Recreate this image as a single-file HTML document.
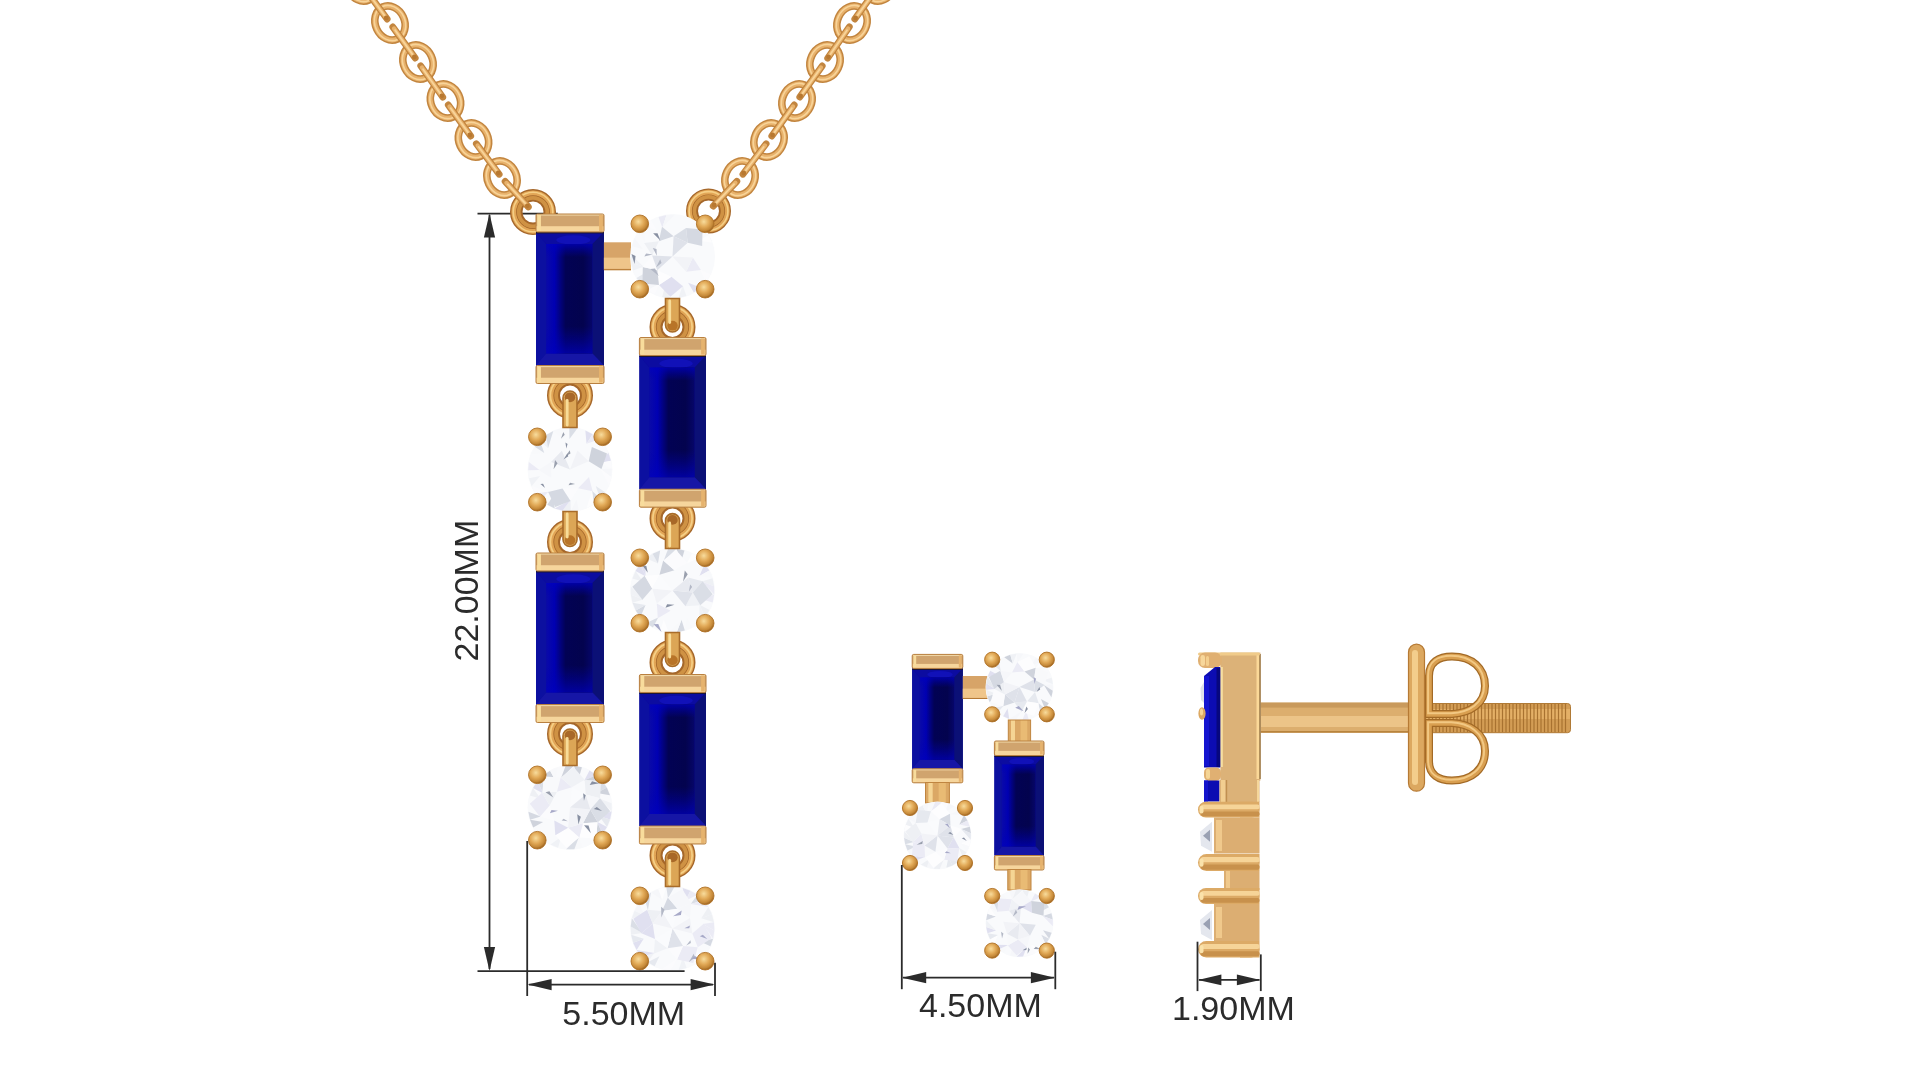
<!DOCTYPE html>
<html><head><meta charset="utf-8"><title>Sapphire Diamond Bar Pendant Set</title>
<style>html,body{margin:0;padding:0;background:#fff;width:1920px;height:1080px;overflow:hidden}svg{display:block;filter:blur(0.45px)}</style>
</head><body>
<svg width="1920" height="1080" viewBox="0 0 1920 1080">
<defs>
<linearGradient id="tbl" x1="0" x2="1" y1="0" y2="0">
<stop offset="0" stop-color="#0a0aa8"/><stop offset="0.18" stop-color="#0000b2"/><stop offset="0.3" stop-color="#020280"/><stop offset="0.42" stop-color="#020254"/><stop offset="0.8" stop-color="#03034e"/><stop offset="1" stop-color="#06066a"/></linearGradient>
<linearGradient id="tblv" x1="0" x2="0" y1="0" y2="1"><stop offset="0" stop-color="#0000c0" stop-opacity="0.75"/><stop offset="0.12" stop-color="#0000b0" stop-opacity="0"/><stop offset="0.75" stop-color="#0000b0" stop-opacity="0"/><stop offset="1" stop-color="#0000c0" stop-opacity="0.7"/></linearGradient>
<linearGradient id="lstep" x1="0" x2="1" y1="0" y2="0"><stop offset="0" stop-color="#0c10a2"/><stop offset="0.45" stop-color="#0a0eaa"/><stop offset="0.55" stop-color="#0202b2"/><stop offset="1" stop-color="#0000ae"/></linearGradient>
<radialGradient id="prong" cx="0.42" cy="0.38" r="0.6">
<stop offset="0" stop-color="#f8dc9c"/><stop offset="0.5" stop-color="#e2aa58"/><stop offset="0.85" stop-color="#c48838"/><stop offset="1" stop-color="#a36a26"/></radialGradient>
</defs>
<rect width="1920" height="1080" fill="#fff"/>
<g transform="translate(333,-55) rotate(65)"><ellipse rx="17.6" ry="14.6" fill="none" stroke="#c2853f" stroke-width="7.6"/><ellipse rx="17.6" ry="14.6" fill="none" stroke="#e8b26c" stroke-width="4.6"/><ellipse rx="18.1" ry="15.1" fill="none" stroke="#f8d499" stroke-width="1.6"/></g>
<g transform="translate(361.5,-16) rotate(65)"><ellipse rx="17.6" ry="14.6" fill="none" stroke="#c2853f" stroke-width="7.6"/><ellipse rx="17.6" ry="14.6" fill="none" stroke="#e8b26c" stroke-width="4.6"/><ellipse rx="18.1" ry="15.1" fill="none" stroke="#f8d499" stroke-width="1.6"/></g>
<g transform="translate(390,23) rotate(65)"><ellipse rx="17.6" ry="14.6" fill="none" stroke="#c2853f" stroke-width="7.6"/><ellipse rx="17.6" ry="14.6" fill="none" stroke="#e8b26c" stroke-width="4.6"/><ellipse rx="18.1" ry="15.1" fill="none" stroke="#f8d499" stroke-width="1.6"/></g>
<g transform="translate(418,62) rotate(65)"><ellipse rx="17.6" ry="14.6" fill="none" stroke="#c2853f" stroke-width="7.6"/><ellipse rx="17.6" ry="14.6" fill="none" stroke="#e8b26c" stroke-width="4.6"/><ellipse rx="18.1" ry="15.1" fill="none" stroke="#f8d499" stroke-width="1.6"/></g>
<g transform="translate(445.5,101) rotate(65)"><ellipse rx="17.6" ry="14.6" fill="none" stroke="#c2853f" stroke-width="7.6"/><ellipse rx="17.6" ry="14.6" fill="none" stroke="#e8b26c" stroke-width="4.6"/><ellipse rx="18.1" ry="15.1" fill="none" stroke="#f8d499" stroke-width="1.6"/></g>
<g transform="translate(473.5,140) rotate(65)"><ellipse rx="17.6" ry="14.6" fill="none" stroke="#c2853f" stroke-width="7.6"/><ellipse rx="17.6" ry="14.6" fill="none" stroke="#e8b26c" stroke-width="4.6"/><ellipse rx="18.1" ry="15.1" fill="none" stroke="#f8d499" stroke-width="1.6"/></g>
<g transform="translate(502,178) rotate(65)"><ellipse rx="17.6" ry="14.6" fill="none" stroke="#c2853f" stroke-width="7.6"/><ellipse rx="17.6" ry="14.6" fill="none" stroke="#e8b26c" stroke-width="4.6"/><ellipse rx="18.1" ry="15.1" fill="none" stroke="#f8d499" stroke-width="1.6"/></g>
<line x1="335.85" y1="-51.1" x2="358.65" y2="-19.9" stroke="#c2853f" stroke-width="6.8" stroke-linecap="round"/><line x1="337.03" y1="-49.49" x2="357.47" y2="-21.51" stroke="#e8b26c" stroke-width="4.2" stroke-linecap="round"/><line x1="338.21" y1="-47.87" x2="356.29" y2="-23.13" stroke="#f8d499" stroke-width="1.8" stroke-linecap="round"/><circle cx="357.76" cy="-21.11" r="2.4" fill="#b87830"/>
<line x1="364.35" y1="-12.1" x2="387.15" y2="19.1" stroke="#c2853f" stroke-width="6.8" stroke-linecap="round"/><line x1="365.53" y1="-10.49" x2="385.97" y2="17.49" stroke="#e8b26c" stroke-width="4.2" stroke-linecap="round"/><line x1="366.71" y1="-8.87" x2="384.79" y2="15.87" stroke="#f8d499" stroke-width="1.8" stroke-linecap="round"/><circle cx="386.26" cy="17.89" r="2.4" fill="#b87830"/>
<line x1="392.8" y1="26.9" x2="415.2" y2="58.1" stroke="#c2853f" stroke-width="6.8" stroke-linecap="round"/><line x1="393.97" y1="28.52" x2="414.03" y2="56.48" stroke="#e8b26c" stroke-width="4.2" stroke-linecap="round"/><line x1="395.13" y1="30.15" x2="412.87" y2="54.85" stroke="#f8d499" stroke-width="1.8" stroke-linecap="round"/><circle cx="414.33" cy="56.88" r="2.4" fill="#b87830"/>
<line x1="420.75" y1="65.9" x2="442.75" y2="97.1" stroke="#c2853f" stroke-width="6.8" stroke-linecap="round"/><line x1="421.9" y1="67.53" x2="441.6" y2="95.47" stroke="#e8b26c" stroke-width="4.2" stroke-linecap="round"/><line x1="423.06" y1="69.17" x2="440.44" y2="93.83" stroke="#f8d499" stroke-width="1.8" stroke-linecap="round"/><circle cx="441.89" cy="95.87" r="2.4" fill="#b87830"/>
<line x1="448.3" y1="104.9" x2="470.7" y2="136.1" stroke="#c2853f" stroke-width="6.8" stroke-linecap="round"/><line x1="449.47" y1="106.52" x2="469.53" y2="134.48" stroke="#e8b26c" stroke-width="4.2" stroke-linecap="round"/><line x1="450.63" y1="108.15" x2="468.37" y2="132.85" stroke="#f8d499" stroke-width="1.8" stroke-linecap="round"/><circle cx="469.83" cy="134.88" r="2.4" fill="#b87830"/>
<line x1="476.35" y1="143.8" x2="499.15" y2="174.2" stroke="#c2853f" stroke-width="6.8" stroke-linecap="round"/><line x1="477.55" y1="145.4" x2="497.95" y2="172.6" stroke="#e8b26c" stroke-width="4.2" stroke-linecap="round"/><line x1="478.75" y1="147" x2="496.75" y2="171" stroke="#f8d499" stroke-width="1.8" stroke-linecap="round"/><circle cx="498.25" cy="173" r="2.4" fill="#b87830"/>
<g transform="translate(907,-55) rotate(115)"><ellipse rx="17.6" ry="14.6" fill="none" stroke="#c2853f" stroke-width="7.6"/><ellipse rx="17.6" ry="14.6" fill="none" stroke="#e8b26c" stroke-width="4.6"/><ellipse rx="18.1" ry="15.1" fill="none" stroke="#f8d499" stroke-width="1.6"/></g>
<g transform="translate(880,-16) rotate(115)"><ellipse rx="17.6" ry="14.6" fill="none" stroke="#c2853f" stroke-width="7.6"/><ellipse rx="17.6" ry="14.6" fill="none" stroke="#e8b26c" stroke-width="4.6"/><ellipse rx="18.1" ry="15.1" fill="none" stroke="#f8d499" stroke-width="1.6"/></g>
<g transform="translate(852,23) rotate(115)"><ellipse rx="17.6" ry="14.6" fill="none" stroke="#c2853f" stroke-width="7.6"/><ellipse rx="17.6" ry="14.6" fill="none" stroke="#e8b26c" stroke-width="4.6"/><ellipse rx="18.1" ry="15.1" fill="none" stroke="#f8d499" stroke-width="1.6"/></g>
<g transform="translate(825,62) rotate(115)"><ellipse rx="17.6" ry="14.6" fill="none" stroke="#c2853f" stroke-width="7.6"/><ellipse rx="17.6" ry="14.6" fill="none" stroke="#e8b26c" stroke-width="4.6"/><ellipse rx="18.1" ry="15.1" fill="none" stroke="#f8d499" stroke-width="1.6"/></g>
<g transform="translate(797,101) rotate(115)"><ellipse rx="17.6" ry="14.6" fill="none" stroke="#c2853f" stroke-width="7.6"/><ellipse rx="17.6" ry="14.6" fill="none" stroke="#e8b26c" stroke-width="4.6"/><ellipse rx="18.1" ry="15.1" fill="none" stroke="#f8d499" stroke-width="1.6"/></g>
<g transform="translate(769,140) rotate(115)"><ellipse rx="17.6" ry="14.6" fill="none" stroke="#c2853f" stroke-width="7.6"/><ellipse rx="17.6" ry="14.6" fill="none" stroke="#e8b26c" stroke-width="4.6"/><ellipse rx="18.1" ry="15.1" fill="none" stroke="#f8d499" stroke-width="1.6"/></g>
<g transform="translate(740,178) rotate(115)"><ellipse rx="17.6" ry="14.6" fill="none" stroke="#c2853f" stroke-width="7.6"/><ellipse rx="17.6" ry="14.6" fill="none" stroke="#e8b26c" stroke-width="4.6"/><ellipse rx="18.1" ry="15.1" fill="none" stroke="#f8d499" stroke-width="1.6"/></g>
<line x1="904.3" y1="-51.1" x2="882.7" y2="-19.9" stroke="#c2853f" stroke-width="6.8" stroke-linecap="round"/><line x1="903.16" y1="-49.46" x2="883.84" y2="-21.54" stroke="#e8b26c" stroke-width="4.2" stroke-linecap="round"/><line x1="902.02" y1="-47.81" x2="884.98" y2="-23.19" stroke="#f8d499" stroke-width="1.8" stroke-linecap="round"/><circle cx="883.55" cy="-21.13" r="2.4" fill="#b87830"/>
<line x1="877.2" y1="-12.1" x2="854.8" y2="19.1" stroke="#c2853f" stroke-width="6.8" stroke-linecap="round"/><line x1="876.03" y1="-10.48" x2="855.97" y2="17.48" stroke="#e8b26c" stroke-width="4.2" stroke-linecap="round"/><line x1="874.87" y1="-8.85" x2="857.13" y2="15.85" stroke="#f8d499" stroke-width="1.8" stroke-linecap="round"/><circle cx="855.67" cy="17.88" r="2.4" fill="#b87830"/>
<line x1="849.3" y1="26.9" x2="827.7" y2="58.1" stroke="#c2853f" stroke-width="6.8" stroke-linecap="round"/><line x1="848.16" y1="28.54" x2="828.84" y2="56.46" stroke="#e8b26c" stroke-width="4.2" stroke-linecap="round"/><line x1="847.02" y1="30.19" x2="829.98" y2="54.81" stroke="#f8d499" stroke-width="1.8" stroke-linecap="round"/><circle cx="828.55" cy="56.87" r="2.4" fill="#b87830"/>
<line x1="822.2" y1="65.9" x2="799.8" y2="97.1" stroke="#c2853f" stroke-width="6.8" stroke-linecap="round"/><line x1="821.03" y1="67.52" x2="800.97" y2="95.48" stroke="#e8b26c" stroke-width="4.2" stroke-linecap="round"/><line x1="819.87" y1="69.15" x2="802.13" y2="93.85" stroke="#f8d499" stroke-width="1.8" stroke-linecap="round"/><circle cx="800.67" cy="95.88" r="2.4" fill="#b87830"/>
<line x1="794.2" y1="104.9" x2="771.8" y2="136.1" stroke="#c2853f" stroke-width="6.8" stroke-linecap="round"/><line x1="793.03" y1="106.52" x2="772.97" y2="134.48" stroke="#e8b26c" stroke-width="4.2" stroke-linecap="round"/><line x1="791.87" y1="108.15" x2="774.13" y2="132.85" stroke="#f8d499" stroke-width="1.8" stroke-linecap="round"/><circle cx="772.67" cy="134.88" r="2.4" fill="#b87830"/>
<line x1="766.1" y1="143.8" x2="742.9" y2="174.2" stroke="#c2853f" stroke-width="6.8" stroke-linecap="round"/><line x1="764.89" y1="145.39" x2="744.11" y2="172.61" stroke="#e8b26c" stroke-width="4.2" stroke-linecap="round"/><line x1="763.67" y1="146.98" x2="745.33" y2="171.02" stroke="#f8d499" stroke-width="1.8" stroke-linecap="round"/><circle cx="743.81" cy="173.01" r="2.4" fill="#b87830"/>
<line x1="477.5" y1="213.6" x2="557.8" y2="213.6" stroke="#2b2b2b" stroke-width="1.8"/>
<circle cx="533" cy="212" r="16.75" fill="none" stroke="#a5672a" stroke-width="12.5"/><circle cx="533" cy="212" r="19.25" fill="none" stroke="#e2a656" stroke-width="4.75"/><circle cx="533" cy="212" r="14.25" fill="none" stroke="#cf9244" stroke-width="3.75"/><circle cx="533" cy="212" r="19.75" fill="none" stroke="#f5cf86" stroke-width="1.62"/>
<circle cx="708.5" cy="211" r="16.5" fill="none" stroke="#a5672a" stroke-width="12"/><circle cx="708.5" cy="211" r="18.9" fill="none" stroke="#e2a656" stroke-width="4.56"/><circle cx="708.5" cy="211" r="14.1" fill="none" stroke="#cf9244" stroke-width="3.6"/><circle cx="708.5" cy="211" r="19.38" fill="none" stroke="#f5cf86" stroke-width="1.56"/>
<line x1="505.1" y1="181.4" x2="528.35" y2="206.9" stroke="#c2853f" stroke-width="6.8" stroke-linecap="round"/><line x1="506.45" y1="182.88" x2="527" y2="205.42" stroke="#e8b26c" stroke-width="4.2" stroke-linecap="round"/><line x1="507.8" y1="184.36" x2="525.65" y2="203.94" stroke="#f8d499" stroke-width="1.8" stroke-linecap="round"/><circle cx="527.34" cy="205.79" r="2.4" fill="#b87830"/>
<line x1="736.85" y1="181.3" x2="713.23" y2="206.05" stroke="#c2853f" stroke-width="6.8" stroke-linecap="round"/><line x1="735.47" y1="182.75" x2="714.61" y2="204.6" stroke="#e8b26c" stroke-width="4.2" stroke-linecap="round"/><line x1="734.09" y1="184.19" x2="715.99" y2="203.16" stroke="#f8d499" stroke-width="1.8" stroke-linecap="round"/><circle cx="714.26" cy="204.96" r="2.4" fill="#b87830"/>
<circle cx="570" cy="395.5" r="16.5" fill="none" stroke="#a5672a" stroke-width="13"/><circle cx="570" cy="395.5" r="19.1" fill="none" stroke="#e2a656" stroke-width="4.94"/><circle cx="570" cy="395.5" r="13.9" fill="none" stroke="#cf9244" stroke-width="3.9"/><circle cx="570" cy="395.5" r="19.62" fill="none" stroke="#f5cf86" stroke-width="1.69"/>
<circle cx="570" cy="542" r="16.5" fill="none" stroke="#a5672a" stroke-width="13"/><circle cx="570" cy="542" r="19.1" fill="none" stroke="#e2a656" stroke-width="4.94"/><circle cx="570" cy="542" r="13.9" fill="none" stroke="#cf9244" stroke-width="3.9"/><circle cx="570" cy="542" r="19.62" fill="none" stroke="#f5cf86" stroke-width="1.69"/>
<circle cx="570" cy="734" r="16.5" fill="none" stroke="#a5672a" stroke-width="13"/><circle cx="570" cy="734" r="19.1" fill="none" stroke="#e2a656" stroke-width="4.94"/><circle cx="570" cy="734" r="13.9" fill="none" stroke="#cf9244" stroke-width="3.9"/><circle cx="570" cy="734" r="19.62" fill="none" stroke="#f5cf86" stroke-width="1.69"/>
<circle cx="672.5" cy="327" r="16.5" fill="none" stroke="#a5672a" stroke-width="13"/><circle cx="672.5" cy="327" r="19.1" fill="none" stroke="#e2a656" stroke-width="4.94"/><circle cx="672.5" cy="327" r="13.9" fill="none" stroke="#cf9244" stroke-width="3.9"/><circle cx="672.5" cy="327" r="19.62" fill="none" stroke="#f5cf86" stroke-width="1.69"/>
<circle cx="672.5" cy="518.5" r="16.5" fill="none" stroke="#a5672a" stroke-width="13"/><circle cx="672.5" cy="518.5" r="19.1" fill="none" stroke="#e2a656" stroke-width="4.94"/><circle cx="672.5" cy="518.5" r="13.9" fill="none" stroke="#cf9244" stroke-width="3.9"/><circle cx="672.5" cy="518.5" r="19.62" fill="none" stroke="#f5cf86" stroke-width="1.69"/>
<circle cx="672.5" cy="662.5" r="16.5" fill="none" stroke="#a5672a" stroke-width="13"/><circle cx="672.5" cy="662.5" r="19.1" fill="none" stroke="#e2a656" stroke-width="4.94"/><circle cx="672.5" cy="662.5" r="13.9" fill="none" stroke="#cf9244" stroke-width="3.9"/><circle cx="672.5" cy="662.5" r="19.62" fill="none" stroke="#f5cf86" stroke-width="1.69"/>
<circle cx="672.5" cy="855.5" r="16.5" fill="none" stroke="#a5672a" stroke-width="13"/><circle cx="672.5" cy="855.5" r="19.1" fill="none" stroke="#e2a656" stroke-width="4.94"/><circle cx="672.5" cy="855.5" r="13.9" fill="none" stroke="#cf9244" stroke-width="3.9"/><circle cx="672.5" cy="855.5" r="19.62" fill="none" stroke="#f5cf86" stroke-width="1.69"/>
<rect x="536" y="231.97" width="68" height="133.57" fill="#0b0b96"/>
<polygon points="536,231.97 546.2,243.99 546.2,353.51 536,365.53" fill="#0c10a0"/>
<polygon points="536,231.97 604,231.97 592.44,243.99 546.2,243.99" fill="#0c0ca0"/>
<ellipse cx="573.4" cy="239.98" rx="17" ry="4.67" fill="#1111b8"/>
<polygon points="604,231.97 604,365.53 592.44,353.51 592.44,243.99" fill="#0b1076"/>
<polygon points="536,365.53 604,365.53 592.44,353.51 546.2,353.51" fill="#1616a6"/>
<rect x="546.2" y="243.99" width="46.24" height="109.52" fill="url(#tbl)"/>
<rect x="546.2" y="243.99" width="46.24" height="109.52" fill="url(#tblv)"/>
<line x1="536" y1="232.67" x2="604" y2="232.67" stroke="#1c1636" stroke-width="1.6"/>
<rect x="536" y="214" width="68" height="17.97" rx="1.5" fill="#d0a46e"/><rect x="537" y="214" width="66" height="1.6" fill="#efd5a4"/><rect x="536" y="226.22" width="68" height="5.39" fill="#f6d59c"/><rect x="537.2" y="215" width="3.74" height="15.97" fill="#f8dc9c"/><rect x="599.06" y="215" width="3.74" height="15.97" fill="#e6b36e"/><rect x="536" y="214" width="68" height="17.97" rx="1.5" fill="none" stroke="#b98040" stroke-width="1"/>
<rect x="536" y="365.53" width="68" height="17.97" rx="1.5" fill="#d0a46e"/><rect x="537" y="365.53" width="66" height="1.6" fill="#efd5a4"/><rect x="536" y="377.75" width="68" height="5.39" fill="#f6d59c"/><rect x="537.2" y="366.53" width="3.74" height="15.97" fill="#f8dc9c"/><rect x="599.06" y="366.53" width="3.74" height="15.97" fill="#e6b36e"/><rect x="536" y="365.53" width="68" height="17.97" rx="1.5" fill="none" stroke="#b98040" stroke-width="1"/>
<rect x="536" y="570.97" width="68" height="133.57" fill="#0b0b96"/>
<polygon points="536,570.97 546.2,582.99 546.2,692.51 536,704.53" fill="#0c10a0"/>
<polygon points="536,570.97 604,570.97 592.44,582.99 546.2,582.99" fill="#0c0ca0"/>
<ellipse cx="573.4" cy="578.98" rx="17" ry="4.67" fill="#1111b8"/>
<polygon points="604,570.97 604,704.53 592.44,692.51 592.44,582.99" fill="#0b1076"/>
<polygon points="536,704.53 604,704.53 592.44,692.51 546.2,692.51" fill="#1616a6"/>
<rect x="546.2" y="582.99" width="46.24" height="109.52" fill="url(#tbl)"/>
<rect x="546.2" y="582.99" width="46.24" height="109.52" fill="url(#tblv)"/>
<line x1="536" y1="571.67" x2="604" y2="571.67" stroke="#1c1636" stroke-width="1.6"/>
<rect x="536" y="553" width="68" height="17.97" rx="1.5" fill="#d0a46e"/><rect x="537" y="553" width="66" height="1.6" fill="#efd5a4"/><rect x="536" y="565.22" width="68" height="5.39" fill="#f6d59c"/><rect x="537.2" y="554" width="3.74" height="15.97" fill="#f8dc9c"/><rect x="599.06" y="554" width="3.74" height="15.97" fill="#e6b36e"/><rect x="536" y="553" width="68" height="17.97" rx="1.5" fill="none" stroke="#b98040" stroke-width="1"/>
<rect x="536" y="704.53" width="68" height="17.97" rx="1.5" fill="#d0a46e"/><rect x="537" y="704.53" width="66" height="1.6" fill="#efd5a4"/><rect x="536" y="716.75" width="68" height="5.39" fill="#f6d59c"/><rect x="537.2" y="705.53" width="3.74" height="15.97" fill="#f8dc9c"/><rect x="599.06" y="705.53" width="3.74" height="15.97" fill="#e6b36e"/><rect x="536" y="704.53" width="68" height="17.97" rx="1.5" fill="none" stroke="#b98040" stroke-width="1"/>
<rect x="639.4" y="355.49" width="66.6" height="133.72" fill="#0b0b96"/>
<polygon points="639.4,355.49 649.39,367.52 649.39,477.18 639.4,489.21" fill="#0c10a0"/>
<polygon points="639.4,355.49 706,355.49 694.68,367.52 649.39,367.52" fill="#0c0ca0"/>
<ellipse cx="676.03" cy="363.51" rx="16.65" ry="4.68" fill="#1111b8"/>
<polygon points="706,355.49 706,489.21 694.68,477.18 694.68,367.52" fill="#0b1076"/>
<polygon points="639.4,489.21 706,489.21 694.68,477.18 649.39,477.18" fill="#1616a6"/>
<rect x="649.39" y="367.52" width="45.29" height="109.65" fill="url(#tbl)"/>
<rect x="649.39" y="367.52" width="45.29" height="109.65" fill="url(#tblv)"/>
<line x1="639.4" y1="356.19" x2="706" y2="356.19" stroke="#1c1636" stroke-width="1.6"/>
<rect x="639.4" y="337.5" width="66.6" height="17.99" rx="1.5" fill="#d0a46e"/><rect x="640.4" y="337.5" width="64.6" height="1.6" fill="#efd5a4"/><rect x="639.4" y="349.73" width="66.6" height="5.4" fill="#f6d59c"/><rect x="640.6" y="338.5" width="3.66" height="15.99" fill="#f8dc9c"/><rect x="701.14" y="338.5" width="3.66" height="15.99" fill="#e6b36e"/><rect x="639.4" y="337.5" width="66.6" height="17.99" rx="1.5" fill="none" stroke="#b98040" stroke-width="1"/>
<rect x="639.4" y="489.21" width="66.6" height="17.99" rx="1.5" fill="#d0a46e"/><rect x="640.4" y="489.21" width="64.6" height="1.6" fill="#efd5a4"/><rect x="639.4" y="501.44" width="66.6" height="5.4" fill="#f6d59c"/><rect x="640.6" y="490.21" width="3.66" height="15.99" fill="#f8dc9c"/><rect x="701.14" y="490.21" width="3.66" height="15.99" fill="#e6b36e"/><rect x="639.4" y="489.21" width="66.6" height="17.99" rx="1.5" fill="none" stroke="#b98040" stroke-width="1"/>
<rect x="639.4" y="692.47" width="66.6" height="133.57" fill="#0b0b96"/>
<polygon points="639.4,692.47 649.39,704.49 649.39,814.01 639.4,826.03" fill="#0c10a0"/>
<polygon points="639.4,692.47 706,692.47 694.68,704.49 649.39,704.49" fill="#0c0ca0"/>
<ellipse cx="676.03" cy="700.48" rx="16.65" ry="4.67" fill="#1111b8"/>
<polygon points="706,692.47 706,826.03 694.68,814.01 694.68,704.49" fill="#0b1076"/>
<polygon points="639.4,826.03 706,826.03 694.68,814.01 649.39,814.01" fill="#1616a6"/>
<rect x="649.39" y="704.49" width="45.29" height="109.52" fill="url(#tbl)"/>
<rect x="649.39" y="704.49" width="45.29" height="109.52" fill="url(#tblv)"/>
<line x1="639.4" y1="693.17" x2="706" y2="693.17" stroke="#1c1636" stroke-width="1.6"/>
<rect x="639.4" y="674.5" width="66.6" height="17.97" rx="1.5" fill="#d0a46e"/><rect x="640.4" y="674.5" width="64.6" height="1.6" fill="#efd5a4"/><rect x="639.4" y="686.72" width="66.6" height="5.39" fill="#f6d59c"/><rect x="640.6" y="675.5" width="3.66" height="15.97" fill="#f8dc9c"/><rect x="701.14" y="675.5" width="3.66" height="15.97" fill="#e6b36e"/><rect x="639.4" y="674.5" width="66.6" height="17.97" rx="1.5" fill="none" stroke="#b98040" stroke-width="1"/>
<rect x="639.4" y="826.03" width="66.6" height="17.97" rx="1.5" fill="#d0a46e"/><rect x="640.4" y="826.03" width="64.6" height="1.6" fill="#efd5a4"/><rect x="639.4" y="838.25" width="66.6" height="5.39" fill="#f6d59c"/><rect x="640.6" y="827.03" width="3.66" height="15.97" fill="#f8dc9c"/><rect x="701.14" y="827.03" width="3.66" height="15.97" fill="#e6b36e"/><rect x="639.4" y="826.03" width="66.6" height="17.97" rx="1.5" fill="none" stroke="#b98040" stroke-width="1"/>
<rect x="603.9" y="242.3" width="27.1" height="27.9" fill="#d7a468"/><rect x="603.9" y="257.64" width="27.1" height="11.16" fill="#efc58a"/><line x1="603.9" y1="269.7" x2="631" y2="269.7" stroke="#b57a36" stroke-width="1"/>
<circle cx="672.5" cy="256.5" r="42.5" fill="#f9fafc"/>
<polygon points="710.28,274.54 706.03,281.56 700.11,269.68" fill="#fbfbfd"/>
<polygon points="700.5,287.62 693.89,292.49 688.13,282.8" fill="#e0e0f0"/>
<polygon points="686.46,295.97 678.49,297.93 682.7,285.35" fill="#f0f2f6"/>
<polygon points="670.29,298.3 662.18,297.07 664.96,286.16" fill="#eef0f4"/>
<polygon points="654.46,294.28 647.44,290.03 659.32,284.11" fill="#fbfbfd"/>
<polygon points="647.44,290.03 641.38,284.5 659.32,284.11" fill="#f6f7fa"/>
<polygon points="641.38,284.5 636.51,277.89 646.2,272.13" fill="#e6e9ef"/>
<polygon points="633.03,270.46 631.07,262.49 643.65,266.7" fill="#f0f2f6"/>
<polygon points="631.07,262.49 630.7,254.29 643.65,266.7" fill="#f0f2f6"/>
<polygon points="631.93,246.18 634.72,238.46 642.84,248.96" fill="#f6f7fa"/>
<polygon points="638.97,231.44 644.5,225.38 644.89,243.32" fill="#f8f9fb"/>
<polygon points="644.5,225.38 651.11,220.51 656.87,230.2" fill="#fbfbfd"/>
<polygon points="658.54,217.03 666.51,215.07 662.3,227.65" fill="#ebebf5"/>
<polygon points="666.51,215.07 674.71,214.7 662.3,227.65" fill="#f6f7fa"/>
<polygon points="697.56,222.97 703.62,228.5 685.68,228.89" fill="#f8f9fb"/>
<polygon points="708.49,235.11 711.97,242.54 698.8,240.87" fill="#fdfdfe"/>
<polygon points="692.87,257.58 686.14,271.67 700.88,270.05" fill="#ebebf5"/>
<polygon points="671.42,276.87 682.99,286.15 670.37,296.82 658.95,284.88" fill="#e0e0f0"/>
<polygon points="671.42,276.87 657.33,270.14 658.95,284.88" fill="#fdfdfe"/>
<polygon points="657.33,270.14 658.95,284.88 642.48,283.5 642.85,266.99" fill="#cfd3dc"/>
<polygon points="657.33,270.14 652.13,255.42 642.85,266.99" fill="#fbfbfd"/>
<polygon points="652.13,255.42 658.86,241.33 644.12,242.95" fill="#eef0f4"/>
<polygon points="658.86,241.33 673.58,236.13 662.01,226.85" fill="#d5d9e2"/>
<polygon points="673.58,236.13 687.67,242.86 686.05,228.12" fill="#dadee6"/>
<polygon points="687.67,242.86 686.05,228.12 702.52,229.5 702.15,246.01" fill="#d5d9e2"/>
<polygon points="672.5,256.5 692.87,257.58 686.14,271.67" fill="#f2f3f7"/>
<polygon points="672.5,256.5 657.33,270.14 652.13,255.42" fill="#dfe2ea"/>
<polygon points="672.5,256.5 673.58,236.13 687.67,242.86" fill="#dfe2ea"/>
<polygon points="635.55,255.98 634.54,264.04 631.49,254" fill="#8890a2"/>
<polygon points="654.99,268.49 658.76,276.09 650.32,269.11" fill="#b3b8c6"/>
<polygon points="657.51,233.13 660.35,240.55 653.1,233.29" fill="#8890a2"/>
<polygon points="646.1,253.39 652.54,254.54 644.33,256.57" fill="#b3b8c6"/>
<polygon points="656.51,248.97 656.83,255.87 652.82,247.91" fill="#b3b8c6"/>
<polygon points="661.52,263.05 655.98,267.44 660.2,259.35" fill="#b3b8c6"/>
<circle cx="639.8" cy="223.8" r="8.8" fill="url(#prong)" stroke="#b07226" stroke-width="0.9"/>
<circle cx="639.8" cy="289.2" r="8.8" fill="url(#prong)" stroke="#b07226" stroke-width="0.9"/>
<circle cx="705.2" cy="223.8" r="8.8" fill="url(#prong)" stroke="#b07226" stroke-width="0.9"/>
<circle cx="705.2" cy="289.2" r="8.8" fill="url(#prong)" stroke="#b07226" stroke-width="0.9"/>
<circle cx="570" cy="469.5" r="42.5" fill="#f9fafc"/>
<polygon points="605.2,492.15 600.11,498.59 595.73,486.06" fill="#e6e9ef"/>
<polygon points="600.11,498.59 593.86,503.9 592.01,490.76" fill="#dadee6"/>
<polygon points="593.86,503.9 586.69,507.89 592.01,490.76" fill="#fdfdfe"/>
<polygon points="578.87,510.41 570.72,511.36 576.49,499.4" fill="#f6f7fa"/>
<polygon points="570.72,511.36 562.54,510.69 570.53,500.1" fill="#eef0f4"/>
<polygon points="562.54,510.69 554.65,508.45 570.53,500.1" fill="#e0e0f0"/>
<polygon points="554.65,508.45 547.35,504.7 553.44,495.23" fill="#d5d9e2"/>
<polygon points="540.91,499.61 535.6,493.36 548.74,491.51" fill="#ebebf5"/>
<polygon points="535.6,493.36 531.61,486.19 548.74,491.51" fill="#fbfbfd"/>
<polygon points="531.61,486.19 529.09,478.37 540.1,475.99" fill="#f0f2f6"/>
<polygon points="528.14,470.22 528.81,462.04 539.4,470.03" fill="#ebebf5"/>
<polygon points="531.05,454.15 534.8,446.85 544.27,452.94" fill="#f8f9fb"/>
<polygon points="534.8,446.85 539.89,440.41 544.27,452.94" fill="#dadee6"/>
<polygon points="539.89,440.41 546.14,435.1 547.99,448.24" fill="#f0f2f6"/>
<polygon points="546.14,435.1 553.31,431.11 547.99,448.24" fill="#dadee6"/>
<polygon points="553.31,431.11 561.13,428.59 563.51,439.6" fill="#f8f9fb"/>
<polygon points="561.13,428.59 569.28,427.64 563.51,439.6" fill="#f8f9fb"/>
<polygon points="569.28,427.64 577.46,428.31 569.47,438.9" fill="#dadee6"/>
<polygon points="585.35,430.55 592.65,434.3 586.56,443.77" fill="#e0e0f0"/>
<polygon points="592.65,434.3 599.09,439.39 586.56,443.77" fill="#ebebf5"/>
<polygon points="604.4,445.64 608.39,452.81 591.26,447.49" fill="#fbfbfd"/>
<polygon points="608.39,452.81 610.91,460.63 599.9,463.01" fill="#e0e0f0"/>
<polygon points="610.91,460.63 611.86,468.78 599.9,463.01" fill="#fbfbfd"/>
<polygon points="611.86,468.78 611.19,476.96 600.6,468.97" fill="#f6f7fa"/>
<polygon points="611.19,476.96 608.95,484.85 600.6,468.97" fill="#fbfbfd"/>
<polygon points="588.98,476.98 578.13,488.21 592.62,491.35" fill="#ebebf5"/>
<polygon points="578.13,488.21 562.52,488.48 570.54,500.95" fill="#fbfbfd"/>
<polygon points="562.52,488.48 570.54,500.95 555.2,507.06 548.15,492.12" fill="#d5d9e2"/>
<polygon points="551.29,477.63 551.02,462.02 538.55,470.04" fill="#f6f7fa"/>
<polygon points="588.71,461.37 591.85,446.88 607.03,453.41 601.45,468.96" fill="#cfd3dc"/>
<polygon points="570,469.5 551.02,462.02 561.87,450.79" fill="#e8eaf0"/>
<polygon points="570,469.5 577.48,450.52 588.71,461.37" fill="#f2f3f7"/>
<polygon points="564.71,434.78 560.91,438.71 563.33,432.07" fill="#9aa0ae"/>
<polygon points="557.54,463.21 553.58,469.35 555.03,460.02" fill="#9aa0ae"/>
<polygon points="570.44,453.39 565.49,456.43 569.73,450.24" fill="#9aa0ae"/>
<polygon points="543.08,483.67 545.06,487.97 540.46,483.94" fill="#8890a2"/>
<polygon points="570.04,482.83 575.05,483.9 568.58,485.27" fill="#9aa0ae"/>
<polygon points="568.29,456.34 563.49,459.53 567.47,453.24" fill="#8890a2"/>
<polygon points="567.55,443.97 566.28,448.39 565.46,442.51" fill="#8890a2"/>
<circle cx="537.3" cy="436.8" r="8.8" fill="url(#prong)" stroke="#b07226" stroke-width="0.9"/>
<circle cx="537.3" cy="502.2" r="8.8" fill="url(#prong)" stroke="#b07226" stroke-width="0.9"/>
<circle cx="602.7" cy="436.8" r="8.8" fill="url(#prong)" stroke="#b07226" stroke-width="0.9"/>
<circle cx="602.7" cy="502.2" r="8.8" fill="url(#prong)" stroke="#b07226" stroke-width="0.9"/>
<circle cx="672.5" cy="590.5" r="42.5" fill="#f9fafc"/>
<polygon points="714.18,594.41 712.62,602.46 701.82,599.24" fill="#ebebf5"/>
<polygon points="709.51,610.06 704.99,616.9 699.55,604.8" fill="#eef0f4"/>
<polygon points="704.99,616.9 699.21,622.73 699.55,604.8" fill="#f0f2f6"/>
<polygon points="692.41,627.33 684.84,630.5 687.05,617.42" fill="#f8f9fb"/>
<polygon points="684.84,630.5 676.8,632.14 681.52,619.74" fill="#d5d9e2"/>
<polygon points="676.8,632.14 668.59,632.18 681.52,619.74" fill="#f8f9fb"/>
<polygon points="668.59,632.18 660.54,630.62 663.76,619.82" fill="#fdfdfe"/>
<polygon points="652.94,627.51 646.1,622.99 658.2,617.55" fill="#dadee6"/>
<polygon points="640.27,617.21 635.67,610.41 645.58,605.05" fill="#d5d9e2"/>
<polygon points="635.67,610.41 632.5,602.84 645.58,605.05" fill="#e6e9ef"/>
<polygon points="632.5,602.84 630.86,594.8 643.26,599.52" fill="#eef0f4"/>
<polygon points="630.86,594.8 630.82,586.59 643.26,599.52" fill="#f0f2f6"/>
<polygon points="632.38,578.54 635.49,570.94 643.18,581.76" fill="#eef0f4"/>
<polygon points="635.49,570.94 640.01,564.1 645.45,576.2" fill="#e0e0f0"/>
<polygon points="640.01,564.1 645.79,558.27 645.45,576.2" fill="#e0e0f0"/>
<polygon points="645.79,558.27 652.59,553.67 657.95,563.58" fill="#eef0f4"/>
<polygon points="652.59,553.67 660.16,550.5 657.95,563.58" fill="#dadee6"/>
<polygon points="668.2,548.86 676.41,548.82 663.48,561.26" fill="#dadee6"/>
<polygon points="676.41,548.82 684.46,550.38 681.24,561.18" fill="#cfd3dc"/>
<polygon points="692.06,553.49 698.9,558.01 686.8,563.45" fill="#fdfdfe"/>
<polygon points="704.73,563.79 709.33,570.59 699.42,575.95" fill="#e0e0f0"/>
<polygon points="709.33,570.59 712.5,578.16 699.42,575.95" fill="#f8f9fb"/>
<polygon points="712.5,578.16 714.14,586.2 701.74,581.48" fill="#eef0f4"/>
<polygon points="714.14,586.2 714.18,594.41 701.74,581.48" fill="#ebebf5"/>
<polygon points="692.81,592.4 685.52,606.21 700.31,605.19" fill="#f0f2f6"/>
<polygon points="670.6,610.81 656.79,603.52 657.81,618.31" fill="#ebebf5"/>
<polygon points="652.19,588.6 642.45,599.77 632.3,586.73 644.69,575.81" fill="#d5d9e2"/>
<polygon points="652.19,588.6 659.48,574.79 644.69,575.81" fill="#fdfdfe"/>
<polygon points="659.48,574.79 674.4,570.19 663.23,560.45" fill="#cfd3dc"/>
<polygon points="674.4,570.19 663.23,560.45 676.27,550.3 687.19,562.69" fill="#fbfbfd"/>
<polygon points="688.21,577.48 692.81,592.4 702.55,581.23" fill="#e6e9ef"/>
<polygon points="692.81,592.4 702.55,581.23 712.7,594.27 700.31,605.19" fill="#dadee6"/>
<polygon points="672.5,590.5 692.81,592.4 685.52,606.21" fill="#dfe2ea"/>
<polygon points="672.5,590.5 656.79,603.52 652.19,588.6" fill="#f2f3f7"/>
<polygon points="672.5,590.5 652.19,588.6 659.48,574.79" fill="#fafbfd"/>
<polygon points="672.5,590.5 688.21,577.48 692.81,592.4" fill="#e8eaf0"/>
<polygon points="667.14,604.13 674.44,604.85 665.44,607.84" fill="#8890a2"/>
<polygon points="692.12,586.94 688.86,591.74 690.18,584.37" fill="#b3b8c6"/>
<polygon points="658.3,623.99 661.56,632.07 653.47,624.26" fill="#a7a9c8"/>
<polygon points="687.73,574.26 683.12,581.48 684.77,570.53" fill="#9aa0ae"/>
<polygon points="646.32,565.88 647.81,572.64 642.5,565.45" fill="#8890a2"/>
<circle cx="639.8" cy="557.8" r="8.8" fill="url(#prong)" stroke="#b07226" stroke-width="0.9"/>
<circle cx="639.8" cy="623.2" r="8.8" fill="url(#prong)" stroke="#b07226" stroke-width="0.9"/>
<circle cx="705.2" cy="557.8" r="8.8" fill="url(#prong)" stroke="#b07226" stroke-width="0.9"/>
<circle cx="705.2" cy="623.2" r="8.8" fill="url(#prong)" stroke="#b07226" stroke-width="0.9"/>
<circle cx="570" cy="807.5" r="42.5" fill="#f9fafc"/>
<polygon points="611.68,811.37 610.13,819.43 599.33,816.22" fill="#e0e0f0"/>
<polygon points="610.13,819.43 607.03,827.03 599.33,816.22" fill="#e6e9ef"/>
<polygon points="607.03,827.03 602.51,833.88 597.07,821.78" fill="#e0e0f0"/>
<polygon points="602.51,833.88 596.73,839.71 597.07,821.78" fill="#cfd3dc"/>
<polygon points="582.37,847.49 574.33,849.14 579.04,836.73" fill="#f8f9fb"/>
<polygon points="574.33,849.14 566.13,849.18 579.04,836.73" fill="#dadee6"/>
<polygon points="558.07,847.63 550.47,844.53 561.28,836.83" fill="#f0f2f6"/>
<polygon points="533.19,827.44 530.01,819.87 543.09,822.07" fill="#cfd3dc"/>
<polygon points="530.01,819.87 528.36,811.83 540.77,816.54" fill="#d5d9e2"/>
<polygon points="529.87,795.57 532.97,787.97 540.67,798.78" fill="#eef0f4"/>
<polygon points="532.97,787.97 537.49,781.12 542.93,793.22" fill="#e0e0f0"/>
<polygon points="537.49,781.12 543.27,775.29 542.93,793.22" fill="#dadee6"/>
<polygon points="543.27,775.29 550.06,770.69 555.43,780.59" fill="#cfd3dc"/>
<polygon points="550.06,770.69 557.63,767.51 555.43,780.59" fill="#f8f9fb"/>
<polygon points="565.67,765.86 573.87,765.82 560.96,778.27" fill="#cfd3dc"/>
<polygon points="573.87,765.82 581.93,767.37 578.72,778.17" fill="#cfd3dc"/>
<polygon points="589.53,770.47 596.38,774.99 584.28,780.43" fill="#e0e0f0"/>
<polygon points="596.38,774.99 602.21,780.77 584.28,780.43" fill="#cfd3dc"/>
<polygon points="602.21,780.77 606.81,787.56 596.91,792.93" fill="#dadee6"/>
<polygon points="606.81,787.56 609.99,795.13 596.91,792.93" fill="#cfd3dc"/>
<polygon points="611.64,803.17 611.68,811.37 599.23,798.46" fill="#f0f2f6"/>
<polygon points="590.31,809.39 583.03,823.2 597.82,822.17" fill="#cfd3dc"/>
<polygon points="583.03,823.2 597.82,822.17 595.78,838.57 579.29,837.55" fill="#fdfdfe"/>
<polygon points="583.03,823.2 568.11,827.81 579.29,837.55" fill="#ebebf5"/>
<polygon points="568.11,827.81 579.29,837.55 566.26,847.7 555.33,835.32" fill="#fdfdfe"/>
<polygon points="568.11,827.81 554.3,820.53 555.33,835.32" fill="#e0e0f0"/>
<polygon points="554.3,820.53 549.69,805.61 539.95,816.79" fill="#fbfbfd"/>
<polygon points="549.69,805.61 539.95,816.79 529.8,803.76 542.18,792.83" fill="#ebebf5"/>
<polygon points="549.69,805.61 556.97,791.8 542.18,792.83" fill="#eef0f4"/>
<polygon points="556.97,791.8 542.18,792.83 544.22,776.43 560.71,777.45" fill="#f8f9fb"/>
<polygon points="556.97,791.8 571.89,787.19 560.71,777.45" fill="#ebebf5"/>
<polygon points="571.89,787.19 560.71,777.45 573.74,767.3 584.67,779.68" fill="#f0f2f6"/>
<polygon points="585.7,794.47 584.67,779.68 601.07,781.72 600.05,798.21" fill="#eef0f4"/>
<polygon points="585.7,794.47 590.31,809.39 600.05,798.21" fill="#f6f7fa"/>
<polygon points="590.31,809.39 600.05,798.21 610.2,811.24 597.82,822.17" fill="#dadee6"/>
<polygon points="570,807.5 590.31,809.39 583.03,823.2" fill="#f2f3f7"/>
<polygon points="570,807.5 583.03,823.2 568.11,827.81" fill="#f2f3f7"/>
<polygon points="570,807.5 571.89,787.19 585.7,794.47" fill="#fafbfd"/>
<polygon points="570,807.5 585.7,794.47 590.31,809.39" fill="#e8eaf0"/>
<polygon points="592.02,781.35 599.5,783.22 589.69,784.95" fill="#8890a2"/>
<polygon points="585.69,795.18 583.94,800.65 583.13,793.28" fill="#8890a2"/>
<polygon points="563.65,818.82 567.78,821.26 561.63,820.56" fill="#b3b8c6"/>
<polygon points="596.83,807.03 602.09,811.03 593.78,809.07" fill="#8890a2"/>
<polygon points="580.8,816.85 578.44,824.47 577.21,814.25" fill="#8890a2"/>
<polygon points="549.44,791.24 553.31,797.39 545.51,792.16" fill="#9aa0ae"/>
<polygon points="588.55,825.43 590.84,833.24 584.03,825.22" fill="#8890a2"/>
<polygon points="551.47,810.11 557.9,810.85 549.92,813.35" fill="#a7a9c8"/>
<circle cx="537.3" cy="774.8" r="8.8" fill="url(#prong)" stroke="#b07226" stroke-width="0.9"/>
<circle cx="537.3" cy="840.2" r="8.8" fill="url(#prong)" stroke="#b07226" stroke-width="0.9"/>
<circle cx="602.7" cy="774.8" r="8.8" fill="url(#prong)" stroke="#b07226" stroke-width="0.9"/>
<circle cx="602.7" cy="840.2" r="8.8" fill="url(#prong)" stroke="#b07226" stroke-width="0.9"/>
<circle cx="672.5" cy="928.5" r="42.5" fill="#f9fafc"/>
<polygon points="713.12,938.64 710.36,946.37 700.17,941.56" fill="#d5d9e2"/>
<polygon points="706.14,953.41 700.64,959.49 697.09,946.71" fill="#f8f9fb"/>
<polygon points="700.64,959.49 694.05,964.39 697.09,946.71" fill="#fbfbfd"/>
<polygon points="686.64,967.9 678.68,969.9 682.83,957.3" fill="#f0f2f6"/>
<polygon points="670.48,970.31 662.36,969.12 677.01,958.77" fill="#fbfbfd"/>
<polygon points="654.63,966.36 647.59,962.14 659.44,956.17" fill="#e6e9ef"/>
<polygon points="647.59,962.14 641.51,956.64 654.29,953.09" fill="#f0f2f6"/>
<polygon points="641.51,956.64 636.61,950.05 654.29,953.09" fill="#e0e0f0"/>
<polygon points="636.61,950.05 633.1,942.64 643.7,938.83" fill="#e0e0f0"/>
<polygon points="633.1,942.64 631.1,934.68 643.7,938.83" fill="#e6e9ef"/>
<polygon points="631.1,934.68 630.69,926.48 642.23,933.01" fill="#eef0f4"/>
<polygon points="630.69,926.48 631.88,918.36 642.23,933.01" fill="#dadee6"/>
<polygon points="631.88,918.36 634.64,910.63 644.83,915.44" fill="#f0f2f6"/>
<polygon points="634.64,910.63 638.86,903.59 644.83,915.44" fill="#f6f7fa"/>
<polygon points="644.36,897.51 650.95,892.61 647.91,910.29" fill="#dadee6"/>
<polygon points="650.95,892.61 658.36,889.1 662.17,899.7" fill="#f6f7fa"/>
<polygon points="658.36,889.1 666.32,887.1 662.17,899.7" fill="#fdfdfe"/>
<polygon points="666.32,887.1 674.52,886.69 667.99,898.23" fill="#dadee6"/>
<polygon points="682.64,887.88 690.37,890.64 685.56,900.83" fill="#e0e0f0"/>
<polygon points="690.37,890.64 697.41,894.86 685.56,900.83" fill="#ebebf5"/>
<polygon points="697.41,894.86 703.49,900.36 690.71,903.91" fill="#dadee6"/>
<polygon points="703.49,900.36 708.39,906.95 690.71,903.91" fill="#ebebf5"/>
<polygon points="708.39,906.95 711.9,914.36 701.3,918.17" fill="#eef0f4"/>
<polygon points="711.9,914.36 713.9,922.32 701.3,918.17" fill="#eef0f4"/>
<polygon points="713.9,922.32 714.31,930.52 702.77,923.99" fill="#ebebf5"/>
<polygon points="714.31,930.52 713.12,938.64 702.77,923.99" fill="#ebebf5"/>
<polygon points="683,945.99 697.78,947.21 693.29,963.11 677.14,959.61" fill="#ebebf5"/>
<polygon points="683,945.99 667.56,948.29 677.14,959.61" fill="#fbfbfd"/>
<polygon points="667.56,948.29 655.01,939 653.79,953.78" fill="#f0f2f6"/>
<polygon points="655.01,939 652.71,923.56 641.39,933.14" fill="#e0e0f0"/>
<polygon points="652.71,923.56 641.39,933.14 633.33,918.72 647.22,909.79" fill="#e0e0f0"/>
<polygon points="652.71,923.56 662,911.01 647.22,909.79" fill="#eef0f4"/>
<polygon points="662,911.01 677.44,908.71 667.86,897.39" fill="#d5d9e2"/>
<polygon points="677.44,908.71 667.86,897.39 682.28,889.33 691.21,903.22" fill="#f6f7fa"/>
<polygon points="677.44,908.71 689.99,918 691.21,903.22" fill="#f6f7fa"/>
<polygon points="692.29,933.44 703.61,923.86 711.67,938.28 697.78,947.21" fill="#ebebf5"/>
<polygon points="672.5,928.5 683,945.99 667.56,948.29" fill="#dfe2ea"/>
<polygon points="672.5,928.5 667.56,948.29 655.01,939" fill="#fafbfd"/>
<polygon points="672.5,928.5 652.71,923.56 662,911.01" fill="#f2f3f7"/>
<polygon points="672.5,928.5 662,911.01 677.44,908.71" fill="#fafbfd"/>
<polygon points="672.5,928.5 689.99,918 692.29,933.44" fill="#f2f3f7"/>
<polygon points="664.55,909.82 661.35,917.43 661.13,906.77" fill="#b3b8c6"/>
<polygon points="689.23,928.16 684.42,928.36 689.99,925.59" fill="#a7a9c8"/>
<polygon points="702.89,934.66 707.25,939.02 699.81,936.17" fill="#a7a9c8"/>
<polygon points="694.99,957.73 688.88,962.12 693.78,953.73" fill="#b3b8c6"/>
<polygon points="680.92,914.93 673.07,916.18 681.68,910.58" fill="#a7a9c8"/>
<polygon points="690.89,943.07 686.23,945.54 690.43,940.18" fill="#b3b8c6"/>
<polygon points="694.91,956.01 701.32,959.78 691.77,958.7" fill="#a7a9c8"/>
<circle cx="639.8" cy="895.8" r="8.8" fill="url(#prong)" stroke="#b07226" stroke-width="0.9"/>
<circle cx="639.8" cy="961.2" r="8.8" fill="url(#prong)" stroke="#b07226" stroke-width="0.9"/>
<circle cx="705.2" cy="895.8" r="8.8" fill="url(#prong)" stroke="#b07226" stroke-width="0.9"/>
<circle cx="705.2" cy="961.2" r="8.8" fill="url(#prong)" stroke="#b07226" stroke-width="0.9"/>
<path d="M563,427.5 L563,398 A7,7 0 0 1 577,398 L577,427.5 Z" fill="#dca656" stroke="#a86c2a" stroke-width="1.6"/><ellipse cx="570" cy="397.3" rx="5.25" ry="4.9" fill="#a86828"/><rect x="565.8" y="399" width="2.8" height="27.5" rx="1.4" fill="#f8dc98"/>
<path d="M563,511.5 L563,539.5 A7,7 0 0 0 577,539.5 L577,511.5 Z" fill="#dca656" stroke="#a86c2a" stroke-width="1.6"/><ellipse cx="570" cy="540.2" rx="5.25" ry="4.9" fill="#b87428"/><rect x="565.8" y="512.5" width="2.8" height="26" rx="1.4" fill="#f8dc98"/>
<path d="M563,765.5 L563,736 A7,7 0 0 1 577,736 L577,765.5 Z" fill="#dca656" stroke="#a86c2a" stroke-width="1.6"/><ellipse cx="570" cy="735.3" rx="5.25" ry="4.9" fill="#a86828"/><rect x="565.8" y="737" width="2.8" height="27.5" rx="1.4" fill="#f8dc98"/>
<path d="M665.5,298.5 L665.5,325 A7,7 0 0 0 679.5,325 L679.5,298.5 Z" fill="#dca656" stroke="#a86c2a" stroke-width="1.6"/><ellipse cx="672.5" cy="325.7" rx="5.25" ry="4.9" fill="#b87428"/><rect x="668.3" y="299.5" width="2.8" height="24.5" rx="1.4" fill="#f8dc98"/>
<path d="M665.5,548.5 L665.5,520.6 A7,7 0 0 1 679.5,520.6 L679.5,548.5 Z" fill="#dca656" stroke="#a86c2a" stroke-width="1.6"/><ellipse cx="672.5" cy="519.9" rx="5.25" ry="4.9" fill="#a86828"/><rect x="668.3" y="521.6" width="2.8" height="25.9" rx="1.4" fill="#f8dc98"/>
<path d="M665.5,632.5 L665.5,659.5 A7,7 0 0 0 679.5,659.5 L679.5,632.5 Z" fill="#dca656" stroke="#a86c2a" stroke-width="1.6"/><ellipse cx="672.5" cy="660.2" rx="5.25" ry="4.9" fill="#b87428"/><rect x="668.3" y="633.5" width="2.8" height="25" rx="1.4" fill="#f8dc98"/>
<path d="M665.5,886.5 L665.5,858 A7,7 0 0 1 679.5,858 L679.5,886.5 Z" fill="#dca656" stroke="#a86c2a" stroke-width="1.6"/><ellipse cx="672.5" cy="857.3" rx="5.25" ry="4.9" fill="#a86828"/><rect x="668.3" y="859" width="2.8" height="26.5" rx="1.4" fill="#f8dc98"/>
<rect x="912.2" y="668.4" width="50.6" height="100.4" fill="#0b0b96"/>
<polygon points="912.2,668.4 919.79,677.44 919.79,759.76 912.2,768.8" fill="#0c10a0"/>
<polygon points="912.2,668.4 962.8,668.4 954.2,677.44 919.79,677.44" fill="#0c0ca0"/>
<ellipse cx="940.03" cy="674.42" rx="12.65" ry="3.51" fill="#1111b8"/>
<polygon points="962.8,668.4 962.8,768.8 954.2,759.76 954.2,677.44" fill="#0b1076"/>
<polygon points="912.2,768.8 962.8,768.8 954.2,759.76 919.79,759.76" fill="#1616a6"/>
<rect x="919.79" y="677.44" width="34.41" height="82.33" fill="url(#tbl)"/>
<rect x="919.79" y="677.44" width="34.41" height="82.33" fill="url(#tblv)"/>
<line x1="912.2" y1="669.1" x2="962.8" y2="669.1" stroke="#1c1636" stroke-width="1.6"/>
<rect x="912.2" y="654.4" width="50.6" height="14" rx="1.5" fill="#d0a46e"/><rect x="913.2" y="654.4" width="48.6" height="1.6" fill="#efd5a4"/><rect x="912.2" y="663.92" width="50.6" height="4.2" fill="#f6d59c"/><rect x="913.4" y="655.4" width="2.78" height="12" fill="#f8dc9c"/><rect x="958.82" y="655.4" width="2.78" height="12" fill="#e6b36e"/><rect x="912.2" y="654.4" width="50.6" height="14" rx="1.5" fill="none" stroke="#b98040" stroke-width="1"/>
<rect x="912.2" y="768.8" width="50.6" height="14" rx="1.5" fill="#d0a46e"/><rect x="913.2" y="768.8" width="48.6" height="1.6" fill="#efd5a4"/><rect x="912.2" y="778.32" width="50.6" height="4.2" fill="#f6d59c"/><rect x="913.4" y="769.8" width="2.78" height="12" fill="#f8dc9c"/><rect x="958.82" y="769.8" width="2.78" height="12" fill="#e6b36e"/><rect x="912.2" y="768.8" width="50.6" height="14" rx="1.5" fill="none" stroke="#b98040" stroke-width="1"/>
<rect x="962.8" y="676" width="24.7" height="23" fill="#d7a468"/><rect x="962.8" y="688.65" width="24.7" height="9.2" fill="#efc58a"/><line x1="962.8" y1="698.5" x2="987.5" y2="698.5" stroke="#b57a36" stroke-width="1"/>
<circle cx="1019.5" cy="687" r="34" fill="#f9fafc"/>
<polygon points="1048.76,703.29 1045.02,708.68 1040.89,698.91" fill="#cfd3dc"/>
<polygon points="1045.02,708.68 1040.3,713.25 1038.16,702.85" fill="#dadee6"/>
<polygon points="1040.3,713.25 1034.78,716.8 1038.16,702.85" fill="#fbfbfd"/>
<polygon points="1028.67,719.21 1022.21,720.38 1026.21,710.54" fill="#ebebf5"/>
<polygon points="1015.65,720.27 1009.23,718.88 1021.48,711.4" fill="#f6f7fa"/>
<polygon points="1009.23,718.88 1003.21,716.26 1007.59,708.39" fill="#e0e0f0"/>
<polygon points="997.82,712.52 993.25,707.8 1003.65,705.66" fill="#e6e9ef"/>
<polygon points="993.25,707.8 989.7,702.28 1003.65,705.66" fill="#f8f9fb"/>
<polygon points="989.7,702.28 987.29,696.17 995.96,693.71" fill="#d5d9e2"/>
<polygon points="987.29,696.17 986.12,689.71 995.96,693.71" fill="#eef0f4"/>
<polygon points="986.12,689.71 986.23,683.15 995.1,688.98" fill="#e0e0f0"/>
<polygon points="986.23,683.15 987.62,676.73 995.1,688.98" fill="#e6e9ef"/>
<polygon points="987.62,676.73 990.24,670.71 998.11,675.09" fill="#e0e0f0"/>
<polygon points="993.98,665.32 998.7,660.75 1000.84,671.15" fill="#e6e9ef"/>
<polygon points="1004.22,657.2 1010.33,654.79 1012.79,663.46" fill="#cfd3dc"/>
<polygon points="1010.33,654.79 1016.79,653.62 1012.79,663.46" fill="#f0f2f6"/>
<polygon points="1016.79,653.62 1023.35,653.73 1017.52,662.6" fill="#f6f7fa"/>
<polygon points="1035.79,657.74 1041.18,661.48 1031.41,665.61" fill="#f6f7fa"/>
<polygon points="1041.18,661.48 1045.75,666.2 1035.35,668.34" fill="#fdfdfe"/>
<polygon points="1051.71,677.83 1052.88,684.29 1043.04,680.29" fill="#f0f2f6"/>
<polygon points="1052.88,684.29 1052.77,690.85 1043.9,685.02" fill="#f6f7fa"/>
<polygon points="1052.77,690.85 1051.38,697.27 1043.9,685.02" fill="#cfd3dc"/>
<polygon points="1035.03,692 1026.95,701.52 1038.67,703.29" fill="#e6e9ef"/>
<polygon points="1026.95,701.52 1038.67,703.29 1034.24,715.74 1021.54,712.08" fill="#fdfdfe"/>
<polygon points="1026.95,701.52 1014.5,702.53 1021.54,712.08" fill="#e6e9ef"/>
<polygon points="1014.5,702.53 1004.98,694.45 1003.21,706.17" fill="#d5d9e2"/>
<polygon points="1004.98,694.45 1003.21,706.17 990.76,701.74 994.42,689.04" fill="#fbfbfd"/>
<polygon points="1004.98,694.45 1003.97,682 994.42,689.04" fill="#eef0f4"/>
<polygon points="1003.97,682 994.42,689.04 988.75,677.1 1000.33,670.71" fill="#d5d9e2"/>
<polygon points="1003.97,682 1012.05,672.48 1000.33,670.71" fill="#f6f7fa"/>
<polygon points="1012.05,672.48 1024.5,671.47 1017.46,661.92" fill="#ebebf5"/>
<polygon points="1024.5,671.47 1017.46,661.92 1029.4,656.25 1035.79,667.83" fill="#fdfdfe"/>
<polygon points="1024.5,671.47 1034.02,679.55 1035.79,667.83" fill="#cfd3dc"/>
<polygon points="1034.02,679.55 1035.79,667.83 1048.24,672.26 1044.58,684.96" fill="#f8f9fb"/>
<polygon points="1034.02,679.55 1035.03,692 1044.58,684.96" fill="#dadee6"/>
<polygon points="1019.5,687 1026.95,701.52 1014.5,702.53" fill="#dfe2ea"/>
<polygon points="1019.5,687 1014.5,702.53 1004.98,694.45" fill="#dfe2ea"/>
<polygon points="1019.5,687 1004.98,694.45 1003.97,682" fill="#f2f3f7"/>
<polygon points="1019.5,687 1034.02,679.55 1035.03,692" fill="#dfe2ea"/>
<polygon points="1000.12,684.96 1001.89,690.97 996.64,684.81" fill="#9aa0ae"/>
<polygon points="1027.9,709.07 1024.46,713.15 1026.37,706.53" fill="#8890a2"/>
<polygon points="1040.17,689.42 1036.44,692.1 1039.43,686.98" fill="#8890a2"/>
<polygon points="1018.74,706.09 1023.67,711.17 1015.19,707.77" fill="#a7a9c8"/>
<polygon points="1036.1,678.79 1034.37,683.97 1033.69,676.96" fill="#a7a9c8"/>
<circle cx="992.2" cy="659.7" r="7.6" fill="url(#prong)" stroke="#b07226" stroke-width="0.9"/>
<circle cx="992.2" cy="714.3" r="7.6" fill="url(#prong)" stroke="#b07226" stroke-width="0.9"/>
<circle cx="1046.8" cy="659.7" r="7.6" fill="url(#prong)" stroke="#b07226" stroke-width="0.9"/>
<circle cx="1046.8" cy="714.3" r="7.6" fill="url(#prong)" stroke="#b07226" stroke-width="0.9"/>
<rect x="1008.3" y="720" width="22.3" height="21.5" fill="#dba865"/><rect x="1010.98" y="720" width="4.01" height="21.5" fill="#f5d594"/><rect x="1020.56" y="720" width="6.69" height="21.5" fill="#e9bb74"/><rect x="1008.3" y="720" width="22.3" height="21.5" fill="none" stroke="#c08540" stroke-width="1"/>
<rect x="994.4" y="755.5" width="49.6" height="100" fill="#0b0b96"/>
<polygon points="994.4,755.5 1001.84,764.5 1001.84,846.5 994.4,855.5" fill="#0c10a0"/>
<polygon points="994.4,755.5 1044,755.5 1035.57,764.5 1001.84,764.5" fill="#0c0ca0"/>
<ellipse cx="1021.68" cy="761.5" rx="12.4" ry="3.5" fill="#1111b8"/>
<polygon points="1044,755.5 1044,855.5 1035.57,846.5 1035.57,764.5" fill="#0b1076"/>
<polygon points="994.4,855.5 1044,855.5 1035.57,846.5 1001.84,846.5" fill="#1616a6"/>
<rect x="1001.84" y="764.5" width="33.73" height="82" fill="url(#tbl)"/>
<rect x="1001.84" y="764.5" width="33.73" height="82" fill="url(#tblv)"/>
<line x1="994.4" y1="756.2" x2="1044" y2="756.2" stroke="#1c1636" stroke-width="1.6"/>
<rect x="994.4" y="741" width="49.6" height="14.5" rx="1.5" fill="#d0a46e"/><rect x="995.4" y="741" width="47.6" height="1.6" fill="#efd5a4"/><rect x="994.4" y="750.86" width="49.6" height="4.35" fill="#f6d59c"/><rect x="995.6" y="742" width="2.73" height="12.5" fill="#f8dc9c"/><rect x="1040.07" y="742" width="2.73" height="12.5" fill="#e6b36e"/><rect x="994.4" y="741" width="49.6" height="14.5" rx="1.5" fill="none" stroke="#b98040" stroke-width="1"/>
<rect x="994.4" y="855.5" width="49.6" height="14.5" rx="1.5" fill="#d0a46e"/><rect x="995.4" y="855.5" width="47.6" height="1.6" fill="#efd5a4"/><rect x="994.4" y="865.36" width="49.6" height="4.35" fill="#f6d59c"/><rect x="995.6" y="856.5" width="2.73" height="12.5" fill="#f8dc9c"/><rect x="1040.07" y="856.5" width="2.73" height="12.5" fill="#e6b36e"/><rect x="994.4" y="855.5" width="49.6" height="14.5" rx="1.5" fill="none" stroke="#b98040" stroke-width="1"/>
<rect x="925.5" y="782.5" width="23.9" height="20.5" fill="#dba865"/><rect x="928.37" y="782.5" width="4.3" height="20.5" fill="#f5d594"/><rect x="938.64" y="782.5" width="7.17" height="20.5" fill="#e9bb74"/><rect x="925.5" y="782.5" width="23.9" height="20.5" fill="none" stroke="#c08540" stroke-width="1"/>
<circle cx="937.5" cy="835.5" r="34" fill="#f9fafc"/>
<polygon points="970.72,839.75 969.25,846.15 960.71,843.28" fill="#fdfdfe"/>
<polygon points="969.25,846.15 966.57,852.14 960.71,843.28" fill="#f8f9fb"/>
<polygon points="966.57,852.14 962.76,857.49 958.75,847.66" fill="#eef0f4"/>
<polygon points="962.76,857.49 957.99,861.99 958.75,847.66" fill="#f8f9fb"/>
<polygon points="957.99,861.99 952.42,865.48 948.41,857.41" fill="#e6e9ef"/>
<polygon points="952.42,865.48 946.29,867.82 948.41,857.41" fill="#e6e9ef"/>
<polygon points="946.29,867.82 939.82,868.91 943.92,859.12" fill="#f8f9fb"/>
<polygon points="939.82,868.91 933.25,868.72 943.92,859.12" fill="#eef0f4"/>
<polygon points="933.25,868.72 926.85,867.25 929.72,858.71" fill="#f6f7fa"/>
<polygon points="926.85,867.25 920.86,864.57 929.72,858.71" fill="#eef0f4"/>
<polygon points="915.51,860.76 911.01,855.99 925.34,856.75" fill="#e0e0f0"/>
<polygon points="911.01,855.99 907.52,850.42 915.59,846.41" fill="#f6f7fa"/>
<polygon points="907.52,850.42 905.18,844.29 915.59,846.41" fill="#dadee6"/>
<polygon points="905.18,844.29 904.09,837.82 913.88,841.92" fill="#dadee6"/>
<polygon points="904.09,837.82 904.28,831.25 913.88,841.92" fill="#eef0f4"/>
<polygon points="904.28,831.25 905.75,824.85 914.29,827.72" fill="#fdfdfe"/>
<polygon points="905.75,824.85 908.43,818.86 914.29,827.72" fill="#eef0f4"/>
<polygon points="908.43,818.86 912.24,813.51 916.25,823.34" fill="#f6f7fa"/>
<polygon points="912.24,813.51 917.01,809.01 916.25,823.34" fill="#f8f9fb"/>
<polygon points="917.01,809.01 922.58,805.52 926.59,813.59" fill="#eef0f4"/>
<polygon points="922.58,805.52 928.71,803.18 926.59,813.59" fill="#f6f7fa"/>
<polygon points="928.71,803.18 935.18,802.09 931.08,811.88" fill="#f8f9fb"/>
<polygon points="935.18,802.09 941.75,802.28 931.08,811.88" fill="#ebebf5"/>
<polygon points="941.75,802.28 948.15,803.75 945.28,812.29" fill="#fbfbfd"/>
<polygon points="948.15,803.75 954.14,806.43 945.28,812.29" fill="#f6f7fa"/>
<polygon points="959.49,810.24 963.99,815.01 949.66,814.25" fill="#f6f7fa"/>
<polygon points="963.99,815.01 967.48,820.58 959.41,824.59" fill="#cfd3dc"/>
<polygon points="967.48,820.58 969.82,826.71 959.41,824.59" fill="#ebebf5"/>
<polygon points="969.82,826.71 970.91,833.18 961.12,829.08" fill="#cfd3dc"/>
<polygon points="970.91,833.18 970.72,839.75 961.12,829.08" fill="#e6e9ef"/>
<polygon points="953.69,837.57 947.48,848.41 959.34,848" fill="#e0e0f0"/>
<polygon points="947.48,848.41 959.34,848 957.26,861.05 944.1,859.78" fill="#ebebf5"/>
<polygon points="947.48,848.41 935.43,851.69 944.1,859.78" fill="#fbfbfd"/>
<polygon points="935.43,851.69 944.1,859.78 933.4,867.54 925,857.34" fill="#fdfdfe"/>
<polygon points="935.43,851.69 924.59,845.48 925,857.34" fill="#f8f9fb"/>
<polygon points="924.59,845.48 925,857.34 911.95,855.26 913.22,842.1" fill="#ebebf5"/>
<polygon points="924.59,845.48 921.31,833.43 913.22,842.1" fill="#ebebf5"/>
<polygon points="921.31,833.43 913.22,842.1 905.46,831.4 915.66,823" fill="#eef0f4"/>
<polygon points="927.52,822.59 915.66,823 917.74,809.95 930.9,811.22" fill="#e6e9ef"/>
<polygon points="939.57,819.31 930.9,811.22 941.6,803.46 950,813.66" fill="#fdfdfe"/>
<polygon points="939.57,819.31 950.41,825.52 950,813.66" fill="#d5d9e2"/>
<polygon points="950.41,825.52 953.69,837.57 961.78,828.9" fill="#fdfdfe"/>
<polygon points="937.5,835.5 953.69,837.57 947.48,848.41" fill="#dfe2ea"/>
<polygon points="937.5,835.5 935.43,851.69 924.59,845.48" fill="#dfe2ea"/>
<polygon points="937.5,835.5 924.59,845.48 921.31,833.43" fill="#f2f3f7"/>
<polygon points="937.5,835.5 927.52,822.59 939.57,819.31" fill="#fafbfd"/>
<polygon points="937.5,835.5 939.57,819.31 950.41,825.52" fill="#e8eaf0"/>
<polygon points="937.5,835.5 950.41,825.52 953.69,837.57" fill="#dfe2ea"/>
<polygon points="946.59,851.18 950.85,853.13 944.8,853.07" fill="#a7a9c8"/>
<polygon points="947.8,823.66 950.03,828.36 944.93,823.99" fill="#a7a9c8"/>
<polygon points="950.21,832.04 953.44,834.92 948.12,833.22" fill="#8890a2"/>
<polygon points="964.01,837.51 966.76,840.88 961.75,838.35" fill="#8890a2"/>
<polygon points="922.24,844.02 916.55,844.87 922.81,840.88" fill="#9aa0ae"/>
<circle cx="910" cy="808" r="7.6" fill="url(#prong)" stroke="#b07226" stroke-width="0.9"/>
<circle cx="910" cy="863" r="7.6" fill="url(#prong)" stroke="#b07226" stroke-width="0.9"/>
<circle cx="965" cy="808" r="7.6" fill="url(#prong)" stroke="#b07226" stroke-width="0.9"/>
<circle cx="965" cy="863" r="7.6" fill="url(#prong)" stroke="#b07226" stroke-width="0.9"/>
<rect x="1007.8" y="869.5" width="23.2" height="20.5" fill="#dba865"/><rect x="1010.58" y="869.5" width="4.18" height="20.5" fill="#f5d594"/><rect x="1020.56" y="869.5" width="6.96" height="20.5" fill="#e9bb74"/><rect x="1007.8" y="869.5" width="23.2" height="20.5" fill="none" stroke="#c08540" stroke-width="1"/>
<circle cx="1019.5" cy="923.3" r="34" fill="#f9fafc"/>
<polygon points="1051.64,932.73 1049.18,938.82 1042.99,930.19" fill="#d5d9e2"/>
<polygon points="1049.18,938.82 1045.58,944.31 1041.19,934.64" fill="#dadee6"/>
<polygon points="1045.58,944.31 1040.98,948.99 1041.19,934.64" fill="#f8f9fb"/>
<polygon points="1040.98,948.99 1035.56,952.69 1031.24,944.78" fill="#fdfdfe"/>
<polygon points="1035.56,952.69 1029.51,955.26 1031.24,944.78" fill="#fbfbfd"/>
<polygon points="1029.51,955.26 1023.09,956.6 1026.82,946.66" fill="#fbfbfd"/>
<polygon points="1023.09,956.6 1016.52,956.66 1026.82,946.66" fill="#e0e0f0"/>
<polygon points="1016.52,956.66 1010.07,955.44 1012.61,946.79" fill="#f6f7fa"/>
<polygon points="1003.98,952.98 998.49,949.38 1008.16,944.99" fill="#f8f9fb"/>
<polygon points="998.49,949.38 993.81,944.78 1008.16,944.99" fill="#e0e0f0"/>
<polygon points="993.81,944.78 990.11,939.36 998.02,935.04" fill="#fdfdfe"/>
<polygon points="990.11,939.36 987.54,933.31 998.02,935.04" fill="#e6e9ef"/>
<polygon points="987.54,933.31 986.2,926.89 996.14,930.62" fill="#e0e0f0"/>
<polygon points="986.2,926.89 986.14,920.32 996.14,930.62" fill="#f0f2f6"/>
<polygon points="986.14,920.32 987.36,913.87 996.01,916.41" fill="#d5d9e2"/>
<polygon points="987.36,913.87 989.82,907.78 996.01,916.41" fill="#fdfdfe"/>
<polygon points="989.82,907.78 993.42,902.29 997.81,911.96" fill="#f6f7fa"/>
<polygon points="993.42,902.29 998.02,897.61 997.81,911.96" fill="#dadee6"/>
<polygon points="998.02,897.61 1003.44,893.91 1007.76,901.82" fill="#f8f9fb"/>
<polygon points="1009.49,891.34 1015.91,890 1012.18,899.94" fill="#f6f7fa"/>
<polygon points="1015.91,890 1022.48,889.94 1012.18,899.94" fill="#eef0f4"/>
<polygon points="1022.48,889.94 1028.93,891.16 1026.39,899.81" fill="#eef0f4"/>
<polygon points="1035.02,893.62 1040.51,897.22 1030.84,901.61" fill="#ebebf5"/>
<polygon points="1045.19,901.82 1048.89,907.24 1040.98,911.56" fill="#dadee6"/>
<polygon points="1051.46,913.29 1052.8,919.71 1042.86,915.98" fill="#d5d9e2"/>
<polygon points="1052.8,919.71 1052.86,926.28 1042.86,915.98" fill="#ebebf5"/>
<polygon points="1029.97,935.82 1018.05,939.56 1027.02,947.31" fill="#f6f7fa"/>
<polygon points="1018.05,939.56 1027.02,947.31 1016.63,955.47 1007.84,945.6" fill="#ebebf5"/>
<polygon points="1018.05,939.56 1006.98,933.77 1007.84,945.6" fill="#f8f9fb"/>
<polygon points="1009.03,910.78 997.2,911.64 998.78,898.52 1011.98,899.29" fill="#ebebf5"/>
<polygon points="1009.03,910.78 1020.95,907.04 1011.98,899.29" fill="#f0f2f6"/>
<polygon points="1020.95,907.04 1011.98,899.29 1022.37,891.13 1031.16,901" fill="#f6f7fa"/>
<polygon points="1020.95,907.04 1032.02,912.83 1031.16,901" fill="#e0e0f0"/>
<polygon points="1032.02,912.83 1031.16,901 1044.28,902.58 1043.51,915.78" fill="#cfd3dc"/>
<polygon points="1019.5,923.3 1035.76,924.75 1029.97,935.82" fill="#dfe2ea"/>
<polygon points="1019.5,923.3 1029.97,935.82 1018.05,939.56" fill="#f2f3f7"/>
<polygon points="1019.5,923.3 1018.05,939.56 1006.98,933.77" fill="#e8eaf0"/>
<polygon points="1019.5,923.3 1006.98,933.77 1003.24,921.85" fill="#f2f3f7"/>
<polygon points="1019.5,923.3 1009.03,910.78 1020.95,907.04" fill="#e8eaf0"/>
<polygon points="1003.45,933.47 1002.03,938.48 1001.08,931.82" fill="#b3b8c6"/>
<polygon points="1017.25,912.66 1012.74,916.78 1015.9,909.55" fill="#b3b8c6"/>
<polygon points="1035.81,946.87 1040.69,949.33 1033.64,949" fill="#9aa0ae"/>
<polygon points="1029.93,949.5 1027.59,953.82 1028.08,947.48" fill="#9aa0ae"/>
<polygon points="1018.83,906.18 1026.04,906.25 1017.5,909.96" fill="#a7a9c8"/>
<polygon points="1026.31,949.9 1022.54,950.31 1026.77,947.84" fill="#8890a2"/>
<circle cx="992.2" cy="896" r="7.6" fill="url(#prong)" stroke="#b07226" stroke-width="0.9"/>
<circle cx="992.2" cy="950.6" r="7.6" fill="url(#prong)" stroke="#b07226" stroke-width="0.9"/>
<circle cx="1046.8" cy="896" r="7.6" fill="url(#prong)" stroke="#b07226" stroke-width="0.9"/>
<circle cx="1046.8" cy="950.6" r="7.6" fill="url(#prong)" stroke="#b07226" stroke-width="0.9"/>
<rect x="1260.6" y="702.6" width="149" height="30.1" fill="#dcae6e" />
<rect x="1260.6" y="702.6" width="149" height="5" fill="#c99a5c" />
<rect x="1260.6" y="716" width="149" height="11" fill="#ecc488" />
<rect x="1260.6" y="731" width="149" height="1.7" fill="#b8843e" />
<rect x="1424" y="703.5" width="146.5" height="29.2" fill="#d39d55" rx="3"/>
<rect x="1424" y="709" width="146.5" height="10" fill="#e8b56c" opacity="0.8"/>
<line x1="1425.5" y1="704" x2="1425.5" y2="732.2" stroke="#a87230" stroke-width="1.2"/>
<line x1="1429" y1="704" x2="1429" y2="732.2" stroke="#a87230" stroke-width="1.2"/>
<line x1="1432.5" y1="704" x2="1432.5" y2="732.2" stroke="#a87230" stroke-width="1.2"/>
<line x1="1436" y1="704" x2="1436" y2="732.2" stroke="#a87230" stroke-width="1.2"/>
<line x1="1439.5" y1="704" x2="1439.5" y2="732.2" stroke="#a87230" stroke-width="1.2"/>
<line x1="1443" y1="704" x2="1443" y2="732.2" stroke="#a87230" stroke-width="1.2"/>
<line x1="1446.5" y1="704" x2="1446.5" y2="732.2" stroke="#a87230" stroke-width="1.2"/>
<line x1="1450" y1="704" x2="1450" y2="732.2" stroke="#a87230" stroke-width="1.2"/>
<line x1="1453.5" y1="704" x2="1453.5" y2="732.2" stroke="#a87230" stroke-width="1.2"/>
<line x1="1457" y1="704" x2="1457" y2="732.2" stroke="#a87230" stroke-width="1.2"/>
<line x1="1460.5" y1="704" x2="1460.5" y2="732.2" stroke="#a87230" stroke-width="1.2"/>
<line x1="1464" y1="704" x2="1464" y2="732.2" stroke="#a87230" stroke-width="1.2"/>
<line x1="1467.5" y1="704" x2="1467.5" y2="732.2" stroke="#a87230" stroke-width="1.2"/>
<line x1="1471" y1="704" x2="1471" y2="732.2" stroke="#a87230" stroke-width="1.2"/>
<line x1="1474.5" y1="704" x2="1474.5" y2="732.2" stroke="#a87230" stroke-width="1.2"/>
<line x1="1478" y1="704" x2="1478" y2="732.2" stroke="#a87230" stroke-width="1.2"/>
<line x1="1481.5" y1="704" x2="1481.5" y2="732.2" stroke="#a87230" stroke-width="1.2"/>
<line x1="1485" y1="704" x2="1485" y2="732.2" stroke="#a87230" stroke-width="1.2"/>
<line x1="1488.5" y1="704" x2="1488.5" y2="732.2" stroke="#a87230" stroke-width="1.2"/>
<line x1="1492" y1="704" x2="1492" y2="732.2" stroke="#a87230" stroke-width="1.2"/>
<line x1="1495.5" y1="704" x2="1495.5" y2="732.2" stroke="#a87230" stroke-width="1.2"/>
<line x1="1499" y1="704" x2="1499" y2="732.2" stroke="#a87230" stroke-width="1.2"/>
<line x1="1502.5" y1="704" x2="1502.5" y2="732.2" stroke="#a87230" stroke-width="1.2"/>
<line x1="1506" y1="704" x2="1506" y2="732.2" stroke="#a87230" stroke-width="1.2"/>
<line x1="1509.5" y1="704" x2="1509.5" y2="732.2" stroke="#a87230" stroke-width="1.2"/>
<line x1="1513" y1="704" x2="1513" y2="732.2" stroke="#a87230" stroke-width="1.2"/>
<line x1="1516.5" y1="704" x2="1516.5" y2="732.2" stroke="#a87230" stroke-width="1.2"/>
<line x1="1520" y1="704" x2="1520" y2="732.2" stroke="#a87230" stroke-width="1.2"/>
<line x1="1523.5" y1="704" x2="1523.5" y2="732.2" stroke="#a87230" stroke-width="1.2"/>
<line x1="1527" y1="704" x2="1527" y2="732.2" stroke="#a87230" stroke-width="1.2"/>
<line x1="1530.5" y1="704" x2="1530.5" y2="732.2" stroke="#a87230" stroke-width="1.2"/>
<line x1="1534" y1="704" x2="1534" y2="732.2" stroke="#a87230" stroke-width="1.2"/>
<line x1="1537.5" y1="704" x2="1537.5" y2="732.2" stroke="#a87230" stroke-width="1.2"/>
<line x1="1541" y1="704" x2="1541" y2="732.2" stroke="#a87230" stroke-width="1.2"/>
<line x1="1544.5" y1="704" x2="1544.5" y2="732.2" stroke="#a87230" stroke-width="1.2"/>
<line x1="1548" y1="704" x2="1548" y2="732.2" stroke="#a87230" stroke-width="1.2"/>
<line x1="1551.5" y1="704" x2="1551.5" y2="732.2" stroke="#a87230" stroke-width="1.2"/>
<line x1="1555" y1="704" x2="1555" y2="732.2" stroke="#a87230" stroke-width="1.2"/>
<line x1="1558.5" y1="704" x2="1558.5" y2="732.2" stroke="#a87230" stroke-width="1.2"/>
<line x1="1562" y1="704" x2="1562" y2="732.2" stroke="#a87230" stroke-width="1.2"/>
<line x1="1565.5" y1="704" x2="1565.5" y2="732.2" stroke="#a87230" stroke-width="1.2"/>
<rect x="1424" y="703.5" width="146.5" height="29.2" fill="none" rx="3" stroke="#b07a36" stroke-width="1"/>
<path d="M1429,714 L1429,676 C1429,662 1439,656.5 1452,656.5 C1472,656.5 1485,668 1485,686 C1485,704 1470,713 1452,714 Z" fill="none" stroke="#a36a26" stroke-width="8"/><path d="M1429,714 L1429,676 C1429,662 1439,656.5 1452,656.5 C1472,656.5 1485,668 1485,686 C1485,704 1470,713 1452,714 Z" fill="none" stroke="#d99f50" stroke-width="5.6"/><path d="M1429,714 L1429,676 C1429,662 1439,656.5 1452,656.5 C1472,656.5 1485,668 1485,686 C1485,704 1470,713 1452,714 Z" fill="none" stroke="#f2c883" stroke-width="2" transform="translate(-0.9,-0.7)"/>
<path d="M1429,723 L1429,761 C1429,775 1439,780.5 1452,780.5 C1472,780.5 1485,769 1485,751 C1485,733 1470,724 1452,723 Z" fill="none" stroke="#a36a26" stroke-width="8"/><path d="M1429,723 L1429,761 C1429,775 1439,780.5 1452,780.5 C1472,780.5 1485,769 1485,751 C1485,733 1470,724 1452,723 Z" fill="none" stroke="#d99f50" stroke-width="5.6"/><path d="M1429,723 L1429,761 C1429,775 1439,780.5 1452,780.5 C1472,780.5 1485,769 1485,751 C1485,733 1470,724 1452,723 Z" fill="none" stroke="#f2c883" stroke-width="2" transform="translate(-0.9,-0.7)"/>
<rect x="1408.5" y="644.2" width="16" height="147" fill="#dca860" rx="8"/>
<rect x="1412" y="650" width="6" height="135" fill="#f3cd8c" rx="3"/>
<rect x="1408.5" y="644.2" width="16" height="147" fill="none" rx="8" stroke="#b67a34" stroke-width="1.2"/>
<rect x="1220.4" y="652.6" width="40" height="128" fill="#dcb278" />
<rect x="1256.5" y="654" width="3.5" height="125" fill="#fbd898" />
<rect x="1259.2" y="654" width="1.6" height="125" fill="#9f7d4c" />
<rect x="1198" y="652.6" width="62" height="3" fill="#f0cb8a" rx="1.5"/>
<rect x="1198" y="652.6" width="24" height="15.5" fill="#e0b072" rx="7"/>
<rect x="1200.5" y="655" width="4.5" height="11" fill="#f7d79b" rx="2.2"/>
<rect x="1206" y="656" width="3" height="10" fill="#f4cf8e" rx="1.5"/>
<rect x="1220.4" y="667" width="2.4" height="100" fill="#f8e0a2" />
<polygon points="1204,676 1215,667 1220.2,667 1220.2,767.4 1204,767.4" fill="#0c0cb2"/>
<rect x="1204" y="676" width="5" height="90" fill="#1414d0" />
<rect x="1216.5" y="668" width="3.7" height="99" fill="#07077e" />
<polygon points="1204,682 1200.5,688 1201,700 1204,703" fill="#dfe2ea"/><ellipse cx="1202" cy="713.5" rx="3.6" ry="6.2" fill="#dca862"/><ellipse cx="1201.5" cy="712" rx="1.6" ry="3.5" fill="#f6d596"/>
<rect x="1204" y="767.4" width="17" height="13.5" fill="#e0b072" rx="5"/>
<rect x="1206" y="769" width="4" height="10" fill="#f5d596" rx="2"/>
<rect x="1204" y="780.5" width="15.5" height="21" fill="#0c0cb2" />
<rect x="1204" y="780.5" width="4" height="21" fill="#1414cc" />
<rect x="1219.5" y="780" width="40" height="22" fill="#dcb278" />
<rect x="1221" y="780" width="4" height="22" fill="#f2ce90" />
<rect x="1226" y="780" width="1.2" height="22" fill="#c09050" />
<rect x="1257" y="780" width="2" height="22" fill="#f5d69a" />
<rect x="1214" y="817.5" width="45.5" height="36" fill="#dcae72" />
<rect x="1216" y="820" width="6" height="31" fill="#f0c98c" />
<rect x="1224" y="871" width="35.5" height="19" fill="#dcae72" />
<rect x="1226" y="871" width="4" height="19" fill="#f0c98c" />
<rect x="1214" y="904" width="45.5" height="37" fill="#dcae72" />
<rect x="1216" y="907" width="6" height="31" fill="#f0c98c" />
<rect x="1198" y="801.7" width="61.5" height="15.8" rx="7.9" fill="#dcaa66"/><rect x="1240" y="801.7" width="19.5" height="15.8" fill="#dcaa66"/><rect x="1201" y="811.5" width="58.5" height="4.74" rx="2" fill="#c8914c"/><rect x="1201" y="804.54" width="58.5" height="4.74" rx="2" fill="#f6d498"/><rect x="1199.5" y="805.65" width="4" height="7.9" rx="2" fill="#fae2aa"/>
<rect x="1198" y="854" width="61.5" height="17" rx="8.5" fill="#dcaa66"/><rect x="1240" y="854" width="19.5" height="17" fill="#dcaa66"/><rect x="1201" y="864.54" width="58.5" height="5.1" rx="2" fill="#c8914c"/><rect x="1201" y="857.06" width="58.5" height="5.1" rx="2" fill="#f6d498"/><rect x="1199.5" y="858.25" width="4" height="8.5" rx="2" fill="#fae2aa"/>
<rect x="1198" y="888" width="61.5" height="16" rx="8" fill="#dcaa66"/><rect x="1240" y="888" width="19.5" height="16" fill="#dcaa66"/><rect x="1201" y="897.92" width="58.5" height="4.8" rx="2" fill="#c8914c"/><rect x="1201" y="890.88" width="58.5" height="4.8" rx="2" fill="#f6d498"/><rect x="1199.5" y="892" width="4" height="8" rx="2" fill="#fae2aa"/>
<rect x="1198" y="941" width="61.5" height="16.5" rx="8.25" fill="#dcaa66"/><rect x="1240" y="941" width="19.5" height="16.5" fill="#dcaa66"/><rect x="1201" y="951.23" width="58.5" height="4.95" rx="2" fill="#c8914c"/><rect x="1201" y="943.97" width="58.5" height="4.95" rx="2" fill="#f6d498"/><rect x="1199.5" y="945.12" width="4" height="8.25" rx="2" fill="#fae2aa"/>
<polygon points="1212,821.7 1200,831.7 1201,845.7 1212,851.7" fill="#e4e7ee"/><polygon points="1210,829.7 1203,835.7 1210,841.7" fill="#9aa1b3"/>
<polygon points="1212,910 1200,920 1201,934 1212,940" fill="#e4e7ee"/><polygon points="1210,918 1203,924 1210,930" fill="#9aa1b3"/>
<line x1="489.5" y1="215" x2="489.5" y2="969" stroke="#2b2b2b" stroke-width="1.8"/>
<polygon points="489.5,213.6 495.1,237.6 483.9,237.6" fill="#2b2b2b"/>
<polygon points="489.5,971 483.9,947 495.1,947" fill="#2b2b2b"/>
<line x1="477.5" y1="971.2" x2="684.6" y2="971.2" stroke="#2b2b2b" stroke-width="1.8"/>
<line x1="527.2" y1="841" x2="527.2" y2="996" stroke="#2b2b2b" stroke-width="1.8"/>
<line x1="715" y1="962.7" x2="715" y2="996" stroke="#2b2b2b" stroke-width="1.8"/>
<line x1="529" y1="984.6" x2="713" y2="984.6" stroke="#2b2b2b" stroke-width="1.8"/>
<polygon points="527.6,984.6 551.6,979 551.6,990.2" fill="#2b2b2b"/>
<polygon points="714.6,984.6 690.6,990.2 690.6,979" fill="#2b2b2b"/>
<line x1="901.8" y1="865" x2="901.8" y2="989.2" stroke="#2b2b2b" stroke-width="1.8"/>
<line x1="1055.3" y1="951.7" x2="1055.3" y2="989.2" stroke="#2b2b2b" stroke-width="1.8"/>
<line x1="903" y1="977.7" x2="1054" y2="977.7" stroke="#2b2b2b" stroke-width="1.8"/>
<polygon points="902.2,977.7 926.2,972.1 926.2,983.3" fill="#2b2b2b"/>
<polygon points="1054.9,977.7 1030.9,983.3 1030.9,972.1" fill="#2b2b2b"/>
<line x1="1197.5" y1="941.7" x2="1197.5" y2="991.1" stroke="#2b2b2b" stroke-width="1.8"/>
<line x1="1260.8" y1="954.4" x2="1260.8" y2="991.1" stroke="#2b2b2b" stroke-width="1.8"/>
<line x1="1199" y1="979.9" x2="1259.5" y2="979.9" stroke="#2b2b2b" stroke-width="1.8"/>
<polygon points="1197.9,979.9 1221.4,974.6 1221.4,985.2" fill="#2b2b2b"/>
<polygon points="1260.4,979.9 1236.9,985.2 1236.9,974.6" fill="#2b2b2b"/>
<text x="562.3" y="1024.7" font-family="&quot;Liberation Sans&quot;, sans-serif" font-size="34" fill="#2b2b2b">5.50MM</text>
<text x="919" y="1017.3" font-family="&quot;Liberation Sans&quot;, sans-serif" font-size="34" fill="#2b2b2b">4.50MM</text>
<text x="1172" y="1019.6" font-family="&quot;Liberation Sans&quot;, sans-serif" font-size="34" fill="#2b2b2b">1.90MM</text>
<text transform="translate(478.3,661.5) rotate(-90)" font-family="&quot;Liberation Sans&quot;, sans-serif" font-size="34" fill="#2b2b2b">22.00MM</text>
</svg>
</body></html>
